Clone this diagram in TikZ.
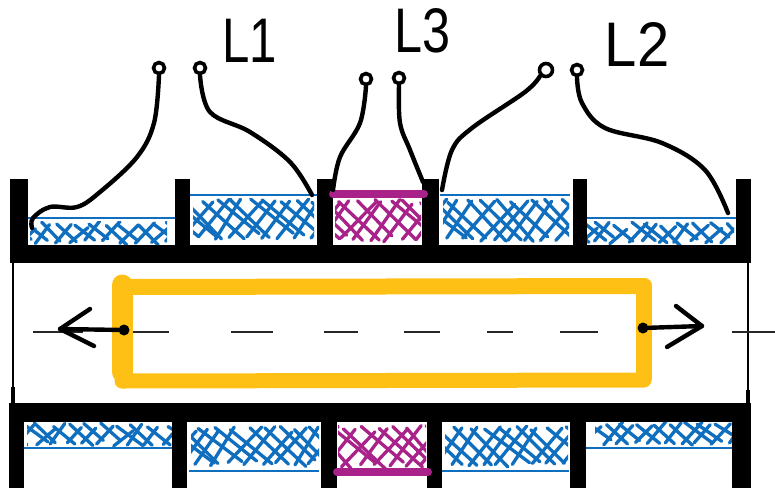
\documentclass[tikz,border=0pt]{standalone}
\usepackage{fontspec}
\setmainfont{Liberation Sans}
\usetikzlibrary{shapes, positioning}

\definecolor{coilblue}{HTML}{0F6EBE}
\definecolor{coilmagenta}{HTML}{A8228A}
\definecolor{shuttleyellow}{HTML}{FFC015}

\tikzset{
	wall/.style={fill=black},
	wire/.style={draw=black, line width=4.4pt, line cap=round, line join=round},
	terminal/.style={circle, draw=black, line width=3.6pt, fill=white, inner sep=0pt, minimum size=11pt},
	pin/.style={circle, fill=black, inner sep=0pt, minimum size=11pt},
	hand/.style={font=\fontsize{63}{63}\selectfont, inner sep=0pt},
	shuttle/.style={draw=shuttleyellow, line cap=round},
	axisdash/.style={draw=black!85, line width=2pt},
	coilline/.style={draw=coilblue, line width=2.6pt},
	hatchstroke/.style={line width=3.3pt, line cap=round}
}

% x1, y1, x2, y2, couleur
\newcommand{\hatchcoil}[5]{
	\begin{scope}
		\clip (#1,#2) rectangle (#3,#4);
		\pgfmathsetmacro\hatchh{#4-#2}
		\pgfmathsetmacro\hatchs{#1-\hatchh}
		\pgfmathsetmacro\hatcht{\hatchs+16}
		\foreach \xpos in {\hatchs,\hatcht,...,#3}{
			\draw[#5, hatchstroke] ({\xpos+3*rand},{#4-1-4*rnd}) -- ++({(.55+.25*rnd)*\hatchh},{-\hatchh+3+7*rnd});
			\draw[#5, hatchstroke] ({\xpos+3+3*rand},{#2+1+4*rnd}) -- ++({(.75+.3*rnd)*\hatchh},{\hatchh-3-7*rnd});
		}
	\end{scope}
}

\begin{document}
\begin{tikzpicture}[x=1pt, y=-1pt]
	\pgfmathsetseed{42}
	\useasboundingbox (0,0) rectangle (775,490);

	%bobines
	\hatchcoil{30}{221}{167}{245}{coilblue}
	\hatchcoil{193}{198}{314}{241}{coilblue}
	\hatchcoil{335}{198}{421}{243}{coilmagenta}
	\hatchcoil{443}{198}{569}{243}{coilblue}
	\hatchcoil{587}{221}{734}{245}{coilblue}
	\hatchcoil{27}{422}{174}{447}{coilblue}
	\hatchcoil{191}{425}{319}{467}{coilblue}
	\hatchcoil{338}{424}{426}{468}{coilmagenta}
	\hatchcoil{445}{425}{568}{468}{coilblue}
	\hatchcoil{595}{421}{733}{447}{coilblue}

	\draw[coilline] (24,218) -- (185,218);
	\draw[coilline] (190,195) -- (320,195);
	\draw[coilline] (440,195) -- (570,195);
	\draw[coilline] (583,218) -- (738,218);
	\draw[coilline] (22,448) -- (176,448);
	\draw[coilline] (189,471) -- (319,471);
	\draw[coilline] (438,471) -- (569,471);
	\draw[coilline] (575,448) -- (736,448);

	%stator haut
	\fill[wall] (10,245) rectangle (751,263);
	\fill[wall] (10,179) rectangle (28,245);
	\fill[wall] (175,179) rectangle (190,245);
	\fill[wall] (317,179) rectangle (333,245);
	\fill[wall] (422,179) rectangle (439,245);
	\fill[wall] (573,179) rectangle (587,245);
	\fill[wall] (736,179) rectangle (751,245);

	%stator bas
	\fill[wall] (9,403) rectangle (751,422);
	\fill[wall] (9,422) rectangle (24,488);
	\fill[wall] (172,422) rectangle (187,488);
	\fill[wall] (321,422) rectangle (337,488);
	\fill[wall] (427,422) rectangle (442,488);
	\fill[wall] (570,422) rectangle (586,488);
	\fill[wall] (732,422) rectangle (751,488);

	\draw[line width=2.4pt] (13,263) -- (13,387);
	\draw[line width=4.5pt] (13,387) -- (13,403);
	\draw[line width=2.4pt] (748,263) -- (748,390);
	\draw[line width=4.5pt] (748,390) -- (748,403);

	\draw[draw=coilmagenta, line width=8pt, line cap=round] (333,194) -- (424,194);
	\draw[draw=coilmagenta, line width=8pt, line cap=round] (337,472) -- (428,472);

	%axe
	\draw[axisdash] (33,332) -- (83,332);
	\draw[axisdash] (133,332) -- (169,332);
	\draw[axisdash] (231,332) -- (273,332);
	\draw[axisdash] (324,332) -- (358,332);
	\draw[axisdash] (404,332) -- (440,332);
	\draw[axisdash] (487,332) -- (513,332);
	\draw[axisdash] (560,332) -- (598,332);
	\draw[axisdash] (732,332) -- (775,332);

	%partie mobile
	\draw[shuttle, line width=16pt] (122,287) -- (644,286);
	\draw[shuttle, line width=15pt] (122,381) -- (644,380);
	\draw[shuttle, line width=21pt] (122,285) -- (122,372);
	\draw[shuttle, line width=16pt] (644,286) -- (644,378);

	\node[pin] (pinl) at (124,330) {};
	\node[pin] (pinr) at (643,328) {};
	\coordinate (tipl) at (60,329);
	\coordinate (tipr) at (702,326);
	\coordinate (barbla) at (90,309);
	\coordinate (barblb) at (94,346);
	\coordinate (barbra) at (676,306);
	\coordinate (barbrb) at (667,347);
	\draw[wire] (pinl) -- (tipl);
	\draw[wire] (barbla) -- (tipl) -- (barblb);
	\draw[wire] (pinr) -- (tipr);
	\draw[wire] (barbra) -- (tipr) -- (barbrb);

	%bornes
	\node[terminal] (l1a) at (159,68) {};
	\node[terminal] (l1b) at (200,68) {};
	\node[terminal] (l3a) at (366,79) {};
	\node[terminal] (l3b) at (399,78) {};
	\node[terminal, minimum size=13pt] (l2a) at (546,70) {};
	\node[terminal] (l2b) at (577,70) {};

	\coordinate (l1aend) at (32,228);
	\coordinate (l1bend) at (312,195);
	\coordinate (l3aend) at (333,190);
	\coordinate (l3bend) at (423,182);
	\coordinate (l2aend) at (442,190);
	\coordinate (l2bend) at (728,213);

	\draw[wire] plot[smooth, tension=.6] coordinates {(l1a.south) (154,123) (137,157) (100,192) (77,207) (50,207) (33,218) (l1aend)};
	\draw[wire] plot[smooth, tension=.6] coordinates {(l1b.south) (210,112) (250,132) (290,162) (l1bend)};
	\draw[wire] plot[smooth, tension=.6] coordinates {(l3a.south) (360,123) (340,157) (l3aend)};
	\draw[wire] plot[smooth, tension=.6] coordinates {(l3b.south) (400,123) (410,150) (l3bend)};
	\draw[wire] plot[smooth, tension=.6] coordinates {(l2a.south west) (525,92) (472,128) (452,150) (l2aend)};
	\draw[wire] plot[smooth, tension=.6] coordinates {(l2b.south) (582,103) (605,128) (662,143) (705,170) (l2bend)};

	\node[hand, xscale=.78] (labl1) at (250,41) {L1};
	\node[hand, xscale=.8] (labl3) at (423,31) {L3};
	\node[hand, xscale=.92] (labl2) at (637,45) {L2};
\end{tikzpicture}
\end{document}
